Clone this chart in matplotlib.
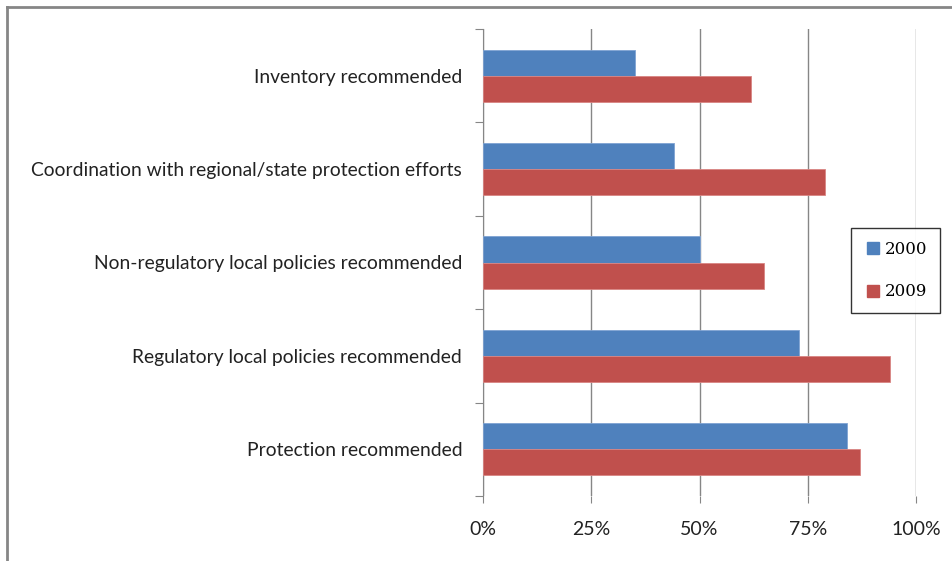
import numpy as np
from matplotlib import pyplot as plt
from matplotlib.lines import Line2D

# categories, bottom to top
categories = [
    'Protection recommended',
    'Regulatory local policies recommended',
    'Non-regulatory local policies recommended',
    'Coordination with regional/state protection efforts',
    'Inventory recommended',
]
vals_2000 = [84, 73, 50, 44, 35]
vals_2009 = [87, 94, 65, 79, 62]
x_ticks = [0, 25, 50, 75, 100]
x_labels = ['0%', '25%', '50%', '75%', '100%']

BLUE = '#4F81BD'
RED = '#C0504D'
GRAY = '#868686'

fig = plt.figure(figsize=(9.52, 5.61), dpi=100)
ax = fig.add_axes([483 / 952, 1 - 496 / 561, 433 / 952, 467 / 561])

y = np.arange(len(categories))
h = 0.28
ax.barh(y + h / 2, vals_2000, height=h, color=BLUE, edgecolor='#7FA3D3', linewidth=0.6, label='2000', zorder=3)
ax.barh(y - h / 2, vals_2009, height=h, color=RED, edgecolor='#D98583', linewidth=0.6, label='2009', zorder=3)

ax.set_xlim(0, 100)
ax.set_ylim(-0.5, len(categories) - 0.5)

# x axis
ax.set_xticks(x_ticks)
ax.set_xticklabels(x_labels, fontsize=14, family='Lato', color='#222222')
ax.tick_params(axis='x', length=5, color=GRAY, pad=13)
ax.grid(axis='x', color=GRAY, linewidth=1, zorder=0)

# y axis: ticks at category boundaries, labels at the centers
ax.set_yticks(np.arange(-0.5, len(categories), 1.0))
ax.set_yticklabels([])
ax.set_yticks(y, minor=True)
ax.set_yticklabels(categories, minor=True, fontsize=13.9, family='Lato', color='#222222')
ax.tick_params(axis='y', which='major', length=6, color=GRAY)
ax.tick_params(axis='y', which='minor', length=0, pad=15)

for s in ['top', 'right', 'bottom']:
    ax.spines[s].set_visible(False)
ax.spines['left'].set_color(GRAY)

# legend box
handles = [Line2D([], [], marker='s', linestyle='', color=BLUE, markersize=8),
           Line2D([], [], marker='s', linestyle='', color=RED, markersize=8)]
leg = fig.legend(handles, ['2000', '2009'], loc='center',
                 bbox_to_anchor=(895.5 / 952, 1 - 270.5 / 561),
                 prop={'family': 'DejaVu Serif', 'size': 12},
                 frameon=True, fancybox=False, edgecolor='black',
                 labelspacing=1.55, handletextpad=0.1, borderpad=0.75, handlelength=1.2)
leg.get_frame().set_linewidth(1)

# outer chart border (left and top visible)
fig.add_artist(Line2D([6.5 / 952, 6.5 / 952], [0, 1 - 7 / 561], color=GRAY, linewidth=2))
fig.add_artist(Line2D([6.5 / 952, 1], [1 - 7 / 561, 1 - 7 / 561], color=GRAY, linewidth=2))

plt.savefig('out.png', dpi=100)
